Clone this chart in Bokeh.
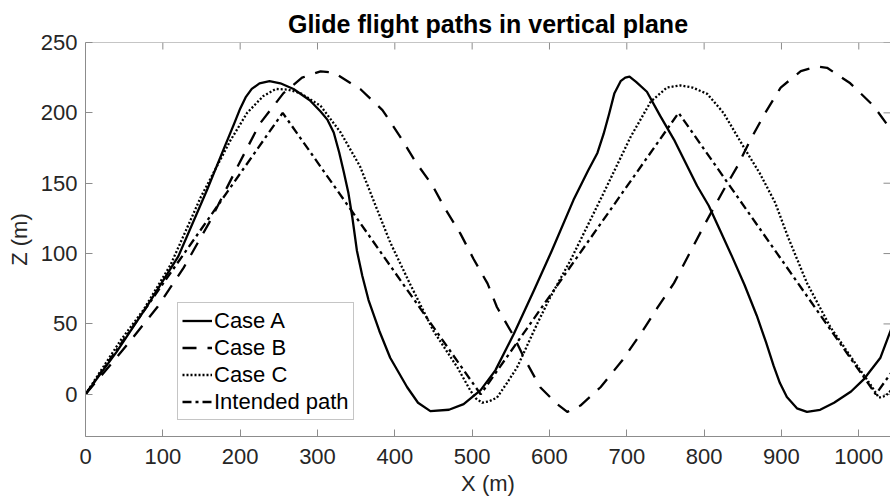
from bokeh.plotting import figure
from bokeh.models import Range1d, FixedTicker, Legend, LegendItem, Span
from bokeh.embed import file_html
from bokeh.resources import INLINE

title_text = "Glide flight paths in vertical plane"
x_label = "X (m)"
z_label = "Z (m)"
x_ticks = [0, 100, 200, 300, 400, 500, 600, 700, 800, 900, 1000]
z_ticks = [0, 50, 100, 150, 200, 250]
x_min, x_max = 0, 1041
z_min, z_max = -30, 250

case_a_x = [0, 20, 40, 80, 120, 157, 180, 192, 200, 207, 215, 225, 238, 252, 269, 290, 304, 313,
            321, 328, 334, 340, 345, 351, 358, 366, 380, 394, 416, 430, 446, 470, 489, 511, 530, 554,
            580, 603, 631, 650, 662, 670, 677, 684, 692, 698, 703.5, 712, 726, 743, 761, 791, 806, 821,
            836, 852, 868, 880, 890, 898, 907, 920, 933, 950, 968, 990, 1007, 1028, 1041, 1048]
case_a_z = [0, 15, 30, 63, 98, 145, 176, 192, 203, 211, 217, 221, 222.5, 221, 217, 209, 201, 195,
            186, 172, 158, 143, 126, 102, 84, 67, 45, 26, 5, -6, -12, -11, -7, 3, 17, 43,
            74, 102, 138, 159, 171.5, 185, 199, 214, 222.5, 225, 225.7, 222, 215, 198, 181, 148, 134, 116,
            98, 78, 56, 37, 20, 8, -2, -10, -12.5, -11, -6, 2, 11, 26, 45, 56]

case_b_x = [0, 37, 58, 93, 127, 160, 195, 225, 256, 280, 304, 321, 356, 384, 407, 427, 448, 466, 485,
            502, 520, 532, 552, 569, 588, 610, 623, 640, 666, 694, 718, 739, 761, 780, 802, 825, 843,
            860, 879, 899, 925, 946, 959, 989, 1019, 1039, 1048]
case_b_z = [0, 24, 38, 62, 90, 122, 160, 192, 214, 225, 229.5, 228.6, 216.6, 202, 183, 165, 149, 131, 114,
            96, 78.6, 62, 43, 24, 5, -7, -12.5, -8, 5, 24, 43, 61, 79, 99, 122, 145, 162,
            181, 200, 218, 229.7, 233, 232, 221, 205, 190, 184]

case_c_x = [0, 45, 75, 110, 149, 187, 209, 230, 246, 262, 278, 304, 330, 355, 373, 394, 420, 450, 481,
            498, 505, 513, 522, 532, 545, 558, 584, 601, 627, 670, 705, 731, 752, 769, 785, 804, 825,
            853, 872, 892, 909, 933, 963, 993, 1015, 1026, 1035, 1041, 1048]
case_c_z = [0, 38, 60, 92, 140, 180, 200, 212, 217, 216.5, 214, 205, 186, 162, 137, 108, 78, 45, 19,
            2.4, -3, -6, -5, -2.4, 8, 19, 50, 69, 95, 143, 183, 208, 218, 219.5, 218, 213.5, 200,
            174, 157, 136, 111, 79, 48, 24, 7, -2.4, -1, 2.4, 6]

intended_x = [0, 255, 511, 767, 1022, 1048]
intended_z = [0, 200, 0, 200, 0, 20]

FONT = "Liberation Sans"
AX_GREY = "#8c8c8c"
TXT = "#262626"

p = figure(width=890, height=503, output_backend="svg", toolbar_location=None,
           x_range=Range1d(x_min, x_max), y_range=Range1d(z_min, z_max),
           min_border_left=85, min_border_right=0, min_border_top=42, min_border_bottom=67,
           title=title_text)
p.title.text_font = FONT
p.title.text_font_size = "25px"
p.title.text_font_style = "bold"
p.title.text_color = "#000000"
p.title.align = "center"
p.title.standoff = 10
p.outline_line_color = None
p.xgrid.visible = False
p.ygrid.visible = False
p.background_fill_color = "white"
p.border_fill_color = "white"

for ax in (p.xaxis[0], p.yaxis[0]):
    ax.axis_line_color = AX_GREY
    ax.major_tick_line_color = AX_GREY
    ax.minor_tick_line_color = None
    ax.major_tick_in = 7
    ax.major_tick_out = 0
    ax.major_label_text_font = FONT
    ax.major_label_text_font_size = "22px"
    ax.major_label_text_color = TXT
    ax.axis_label_text_font = FONT
    ax.axis_label_text_font_size = "22px"
    ax.axis_label_text_font_style = "normal"
    ax.axis_label_text_color = TXT

p.xaxis[0].ticker = FixedTicker(ticks=x_ticks)
p.yaxis[0].ticker = FixedTicker(ticks=z_ticks)
p.xaxis[0].axis_label = x_label
p.yaxis[0].axis_label = z_label
p.xaxis[0].major_label_standoff = 12
p.xaxis[0].axis_label_standoff = 4
p.yaxis[0].major_label_standoff = 8
p.yaxis[0].axis_label_standoff = 6

# box: top spine plus mirrored inward ticks on top and right
p.add_layout(Span(location=z_max, dimension="width", line_color=AX_GREY, line_width=1))
tick_len_x = 7 / 1.407
tick_len_z = 7 / 0.7733
p.segment(x0=x_ticks, y0=[z_max] * len(x_ticks), x1=x_ticks, y1=[z_max - tick_len_x] * len(x_ticks),
          line_color=AX_GREY, line_width=1)
p.segment(x0=[x_max] * len(z_ticks), y0=z_ticks, x1=[x_max - tick_len_z] * len(z_ticks), y1=z_ticks,
          line_color=AX_GREY, line_width=1)

ra = p.line(case_a_x, case_a_z, line_color="black", line_width=2.3, line_join="round")
rb = p.line(case_b_x, case_b_z, line_color="black", line_width=2.3, line_dash="14 11", line_join="round")
rc = p.line(case_c_x, case_c_z, line_color="black", line_width=2.3, line_dash="2 2", line_join="round")
ri = p.line(intended_x, intended_z, line_color="black", line_width=2.3, line_dash="9 4 3 4")

legend = Legend(items=[LegendItem(label="Case A", renderers=[ra]),
                       LegendItem(label="Case B", renderers=[rb]),
                       LegendItem(label="Case C", renderers=[rc]),
                       LegendItem(label="Intended path", renderers=[ri])],
                location=(92, 16), padding=4, spacing=0, margin=0,
                glyph_width=30, glyph_height=27, label_height=27, label_standoff=2,
                label_text_font=FONT, label_text_font_size="22px", label_text_color="#000000",
                border_line_color=AX_GREY, border_line_width=1, background_fill_alpha=1)
p.add_layout(legend)

open("out.html", "w").write(file_html(p, INLINE))
